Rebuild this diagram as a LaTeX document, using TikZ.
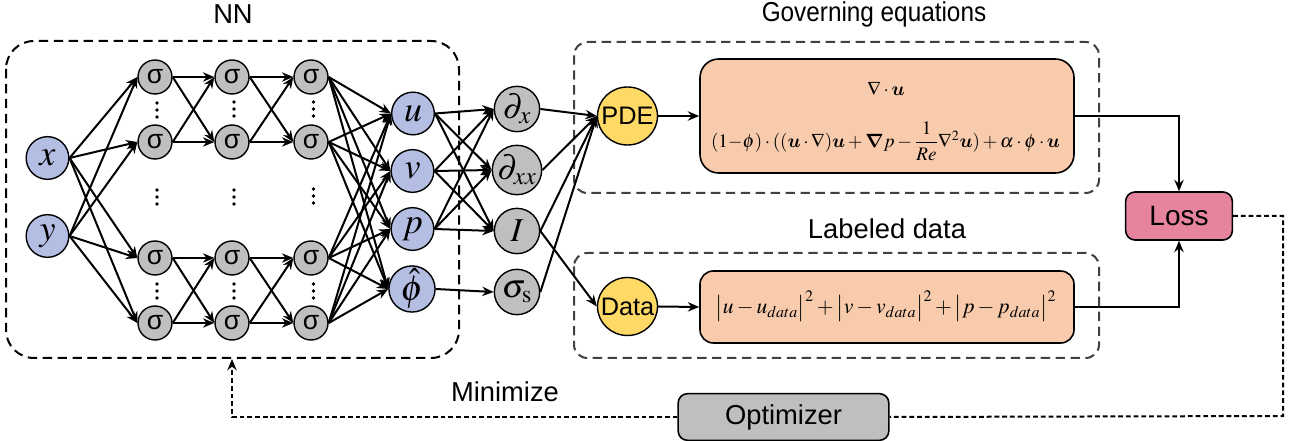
\documentclass[tikz,border=0pt]{standalone}
\usepackage{amsmath,bm}
\usepackage{mathptmx}
\usepackage[no-math]{fontspec}
\setmainfont{Liberation Sans}
\usetikzlibrary{arrows.meta,shapes.geometric}
\definecolor{inblue}{HTML}{B4BEE2}
\definecolor{midgray}{HTML}{BFBFBF}
\definecolor{pdeyellow}{HTML}{FFD966}
\definecolor{eqorange}{HTML}{F8CBAD}
\definecolor{losspink}{HTML}{E6849E}
\definecolor{dashgray}{HTML}{404040}
\tikzset{
  bluenode/.style={circle,draw=black,fill=inblue,line width=1.05pt,minimum size=32pt,inner sep=0pt,font=\fontsize{27}{27}\selectfont},
  signode/.style={circle,draw=black,fill=midgray,line width=1.05pt,minimum size=25.5pt,inner sep=0pt,font=\fontsize{20}{20}\selectfont},
  opnode/.style={circle,draw=black,fill=midgray,line width=1.05pt,minimum size=34pt,inner sep=0pt,font=\fontsize{25}{25}\selectfont},
  yellownode/.style={ellipse,draw=black,fill=pdeyellow,line width=1.05pt,minimum width=45pt,minimum height=43.5pt,inner sep=0pt,font=\fontsize{19}{19}\selectfont},
  eqbox/.style={rectangle,rounded corners=14pt,draw=black,fill=eqorange,line width=1.2pt,inner sep=0pt},
  dashblack/.style={draw=black,line width=1.5pt,dash pattern=on 7pt off 4.2pt},
  dashdark/.style={draw=dashgray,line width=1.5pt,dash pattern=on 7pt off 4.2pt},
  conn/.style={line width=1.5pt,-{Stealth[length=8.5pt,width=7pt]}},
  dashconn/.style={line width=1.5pt,dash pattern=on 3.6pt off 2.2pt},
  title/.style={font=\fontsize{20.5}{20.5}\selectfont,inner sep=0pt},
  dotnode/.style={circle,fill=black,inner sep=0pt,minimum size=2.8pt}
}
\newcommand{\vdotsat}[2]{%
  \node[dotnode] at (#1,#2-7) {};
  \node[dotnode] at (#1,#2) {};
  \node[dotnode] at (#1,#2+7) {};}
\begin{document}
\begin{tikzpicture}[x=0.75pt,y=-0.75pt]
\useasboundingbox (0,0) rectangle (1299,441);
% dashed group frames
\draw[dashblack,rounded corners=21pt] (6,41) rectangle (459,358);
\draw[dashdark,rounded corners=10pt] (574,42) rectangle (1099,193);
\draw[dashdark,rounded corners=10pt] (574,253) rectangle (1099,358);
\node[title] (nntitle) at (233,14) {NN};
\node[title] (govtitle) at (874,14) {\scalebox{0.89}[1]{Governing equations}};
\node[title] (labtitle) at (887,229) {Labeled data};
\node[title] (mintitle) at (505,392) {Minimize};
% inputs
\node[bluenode] (x) at (47.5,158) {$x$};
\node[bluenode] (y) at (47.5,236) {$y$};
% hidden layers
\foreach \c/\xx in {1/155,2/232,3/311}{
  \node[signode] (s\c1) at (\xx,77) {σ};
  \node[signode] (s\c2) at (\xx,142) {σ};
  \node[signode] (s\c3) at (\xx,258) {σ};
  \node[signode] (s\c4) at (\xx,323) {σ};
}
\vdotsat{157}{110}\vdotsat{157}{197}\vdotsat{157}{291}
\vdotsat{234}{109}\vdotsat{234}{197}\vdotsat{234}{291}
\vdotsat{313.5}{109}\vdotsat{313.5}{196}\vdotsat{313.5}{291}
% outputs
\node[bluenode] (u) at (413,113.5) {$u$};
\node[bluenode] (v) at (412.5,171) {$v$};
\node[bluenode] (p) at (412.5,229) {$p$};
\node[bluenode] (f) at (412,289) {$\hat{\phi}$};
% operators
\node[opnode] (dx) at (517,109) {$\partial_x$};
\node[opnode] (dxx) at (517,170) {$\partial_{xx}$};
\node[opnode] (id) at (517,231) {$I$};
\node[opnode] (sg) at (517,292) {$\sigma_{\mathrm{s}}$};
% PDE / data
\node[yellownode] (pde) at (627.5,116) {\makebox[0pt]{PDE}};
\node[yellownode] (data) at (627.5,306.5) {\makebox[0pt]{Data}};
\node[eqbox,minimum width=280.5pt,minimum height=85.5pt] (eq1) at (887,116) {};
\node[inner sep=0pt,font=\fontsize{14.3}{14.3}\selectfont] (eq1a) at (886,89) {$\nabla\cdot\bm{u}$};
\node[inner sep=0pt,font=\fontsize{14.3}{14.3}\selectfont] (eq1b) at (885.5,141) {$(1{-}\phi)\cdot((\bm{u}\cdot\nabla)\bm{u}+\bm{\nabla} p-\dfrac{1}{Re}\nabla^2\bm{u})+\alpha\cdot\phi\cdot\bm{u}$};
\node[eqbox,minimum width=280.5pt,minimum height=54pt,rounded corners=10pt] (eq2) at (887,307) {};
\node[inner sep=0pt,font=\fontsize{16.2}{16.2}\selectfont] (eq2a) at (886,306) {$\big|u-u_{data}\big|^2+\big|v-v_{data}\big|^2+\big|p-p_{data}\big|^2$};
% loss / optimizer
\node[rectangle,rounded corners=7pt,draw=black,fill=losspink,line width=1.2pt,minimum width=80pt,minimum height=36pt,inner sep=0pt,font=\fontsize{21}{21}\selectfont] (loss) at (1179,216) {Loss};
\node[rectangle,rounded corners=7pt,draw=black,fill=midgray,line width=1.2pt,minimum width=158pt,minimum height=35pt,inner sep=0pt,font=\fontsize{20.5}{20.5}\selectfont] (opt) at (783.5,417) {Optimizer};
% connectors
\foreach \a in {x,y}{\foreach \b in {1,2,3,4}{\draw[conn] (\a.east) -- (s1\b.west);}}
\foreach \c/\d in {1/2,2/3}{
  \foreach \a/\b in {1/1,1/2,2/1,2/2,3/3,3/4,4/3,4/4}{\draw[conn] (s\c\a.east) -- (s\d\b.west);}
}
\foreach \a in {1,2,3,4}{\foreach \b in {u,v,p,f}{\draw[conn] (s3\a.east) -- (\b.west);}}
\foreach \a in {u,v,p}{\foreach \b in {dx,dxx,id}{\draw[conn] (\a.east) -- (\b.west);}}
\draw[conn] (f.east) -- (sg.west);
\foreach \a in {dx,dxx,id,sg}{\draw[conn] (\a.east) -- (pde.west);}
\draw[conn] (id.east) -- (data.west);
\draw[conn] (pde.east) -- (eq1.west);
\draw[conn] (data.east) -- (eq2.west);
\draw[conn] (eq1.east) -| (loss.north);
\draw[conn] (eq2.east) -| (loss.south);
\coordinate (cornera) at (1283,216);
\coordinate (cornerb) at (1283,416);
\coordinate (nnbottom) at (232,359);
\draw[dashconn] (loss.east) -- (cornera) -- (cornerb) -- (opt.east);
\draw[dashconn,-{Stealth[length=8.5pt,width=7pt]}] (opt.west) -| (nnbottom);
\end{tikzpicture}
\end{document}
